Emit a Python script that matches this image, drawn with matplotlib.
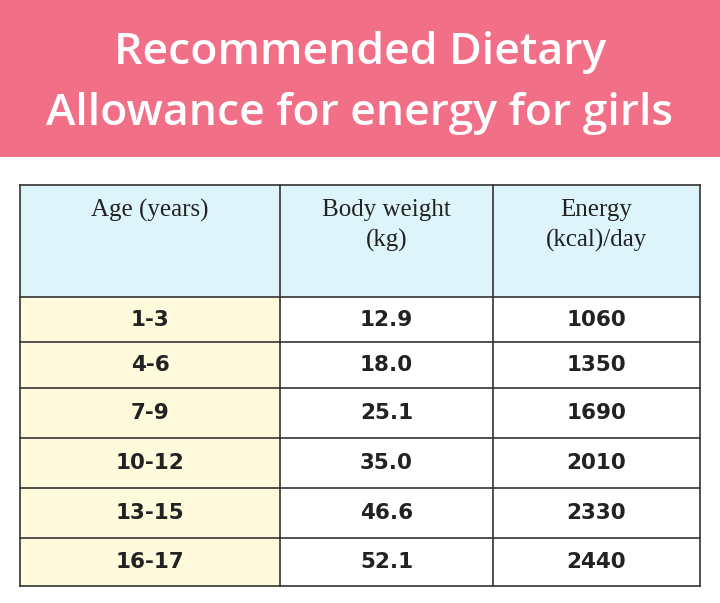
import matplotlib
matplotlib.use("Agg")
import matplotlib.pyplot as plt
from matplotlib.patches import Rectangle

title_lines = ["Recommended Dietary", "Allowance for energy for girls"]
headers = ["Age (years)", "Body weight\n(kg)", "Energy\n(kcal)/day"]
ages = ["1-3", "4-6", "7-9", "10-12", "13-15", "16-17"]
weights = ["12.9", "18.0", "25.1", "35.0", "46.6", "52.1"]
energy = ["1060", "1350", "1690", "2010", "2330", "2440"]

W, H = 720, 603
fig = plt.figure(figsize=(W/100, H/100), dpi=100)
ax = fig.add_axes([0, 0, 1, 1])
ax.set_xlim(0, W); ax.set_ylim(H, 0); ax.axis("off")

ax.add_patch(Rectangle((0, 0), W, 157, color="#F26F88", lw=0))
ax.text(360, 52, title_lines[0], ha="center", va="center", color="white",
        fontsize=32, fontweight="semibold", family="Open Sans")
ax.text(360, 113, title_lines[1], ha="center", va="center", color="white",
        fontsize=32, fontweight="semibold", family="Open Sans")

xs = [20, 280, 493, 700]
ys = [185, 297, 342, 388, 438, 488, 538, 586]
ax.add_patch(Rectangle((xs[0], ys[0]), xs[3]-xs[0], ys[1]-ys[0], color="#DDF4FB", lw=0))
ax.add_patch(Rectangle((xs[0], ys[1]), xs[1]-xs[0], ys[-1]-ys[1], color="#FFFADC", lw=0))
for y in ys:
    ax.plot([xs[0], xs[3]], [y, y], color="#333333", lw=1.2)
for x in xs:
    ax.plot([x, x], [ys[0], ys[-1]], color="#333333", lw=1.2)

for i, h in enumerate(headers):
    cx = (xs[i]+xs[i+1])/2
    ax.text(cx, 199, h, ha="center", va="top", fontsize=18, family="Liberation Serif",
            color="#222222", linespacing=1.45)

cols = [ages, weights, energy]
for i, col in enumerate(cols):
    cx = (xs[i]+xs[i+1])/2
    for r, v in enumerate(col):
        cy = (ys[r+1]+ys[r+2])/2
        ax.text(cx, cy, v, ha="center", va="center", fontsize=15.5, fontweight="bold",
                family="DejaVu Sans", color="#222222")

fig.savefig("out.png", dpi=100, facecolor="white")
